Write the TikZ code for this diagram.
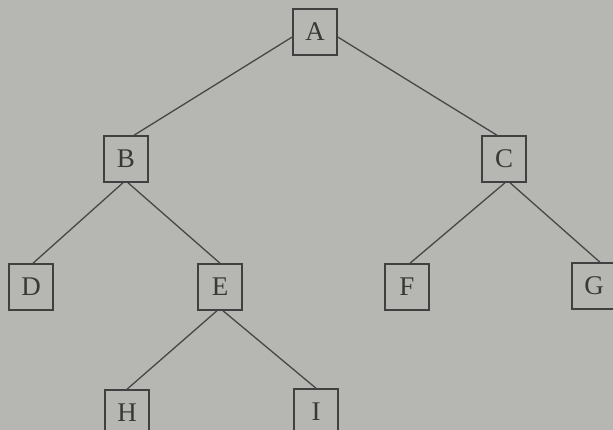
\documentclass[tikz,border=0pt]{standalone}
\usepackage{fontspec}
\setmainfont{Liberation Serif}
\begin{document}
\begin{tikzpicture}[x=1pt,y=-1pt,
  treebox/.style={draw=black!75,line width=1.5pt,minimum width=44pt,minimum height=46pt,inner sep=0pt,
    font=\fontsize{27}{30}\selectfont,text=black!78},
  edge/.style={draw=black!72,line width=1.3pt}]
\fill[fill={rgb,255:red,182;green,182;blue,178}] (0,0) rectangle (613,430);
\useasboundingbox (0,0) rectangle (613,430);
\node[treebox] (A) at (315,32) {A};
\node[treebox] (B) at (126,159) {B};
\node[treebox] (C) at (504,159) {C};
\node[treebox] (D) at (31,287) {D};
\node[treebox] (E) at (220,287) {E};
\node[treebox] (F) at (407,287) {F};
\node[treebox] (G) at (594,286) {G};
\node[treebox] (H) at (127,413) {H};
\node[treebox] (I) at (316,412) {I};
\draw[edge] ([yshift=-5pt]A.west) -- ([xshift=8pt]B.north);
\draw[edge] ([yshift=-5pt]A.east) -- ([xshift=-7pt]C.north);
\draw[edge] ([xshift=-3pt]B.south) -- ([xshift=2pt]D.north);
\draw[edge] ([xshift=2pt]B.south) -- (E.north);
\draw[edge] ([xshift=1pt]C.south) -- ([xshift=3pt]F.north);
\draw[edge] ([xshift=6pt]C.south) -- ([xshift=6pt]G.north);
\draw[edge] ([xshift=-3pt]E.south) -- (H.north);
\draw[edge] ([xshift=3pt]E.south) -- (I.north);
\end{tikzpicture}
\end{document}
